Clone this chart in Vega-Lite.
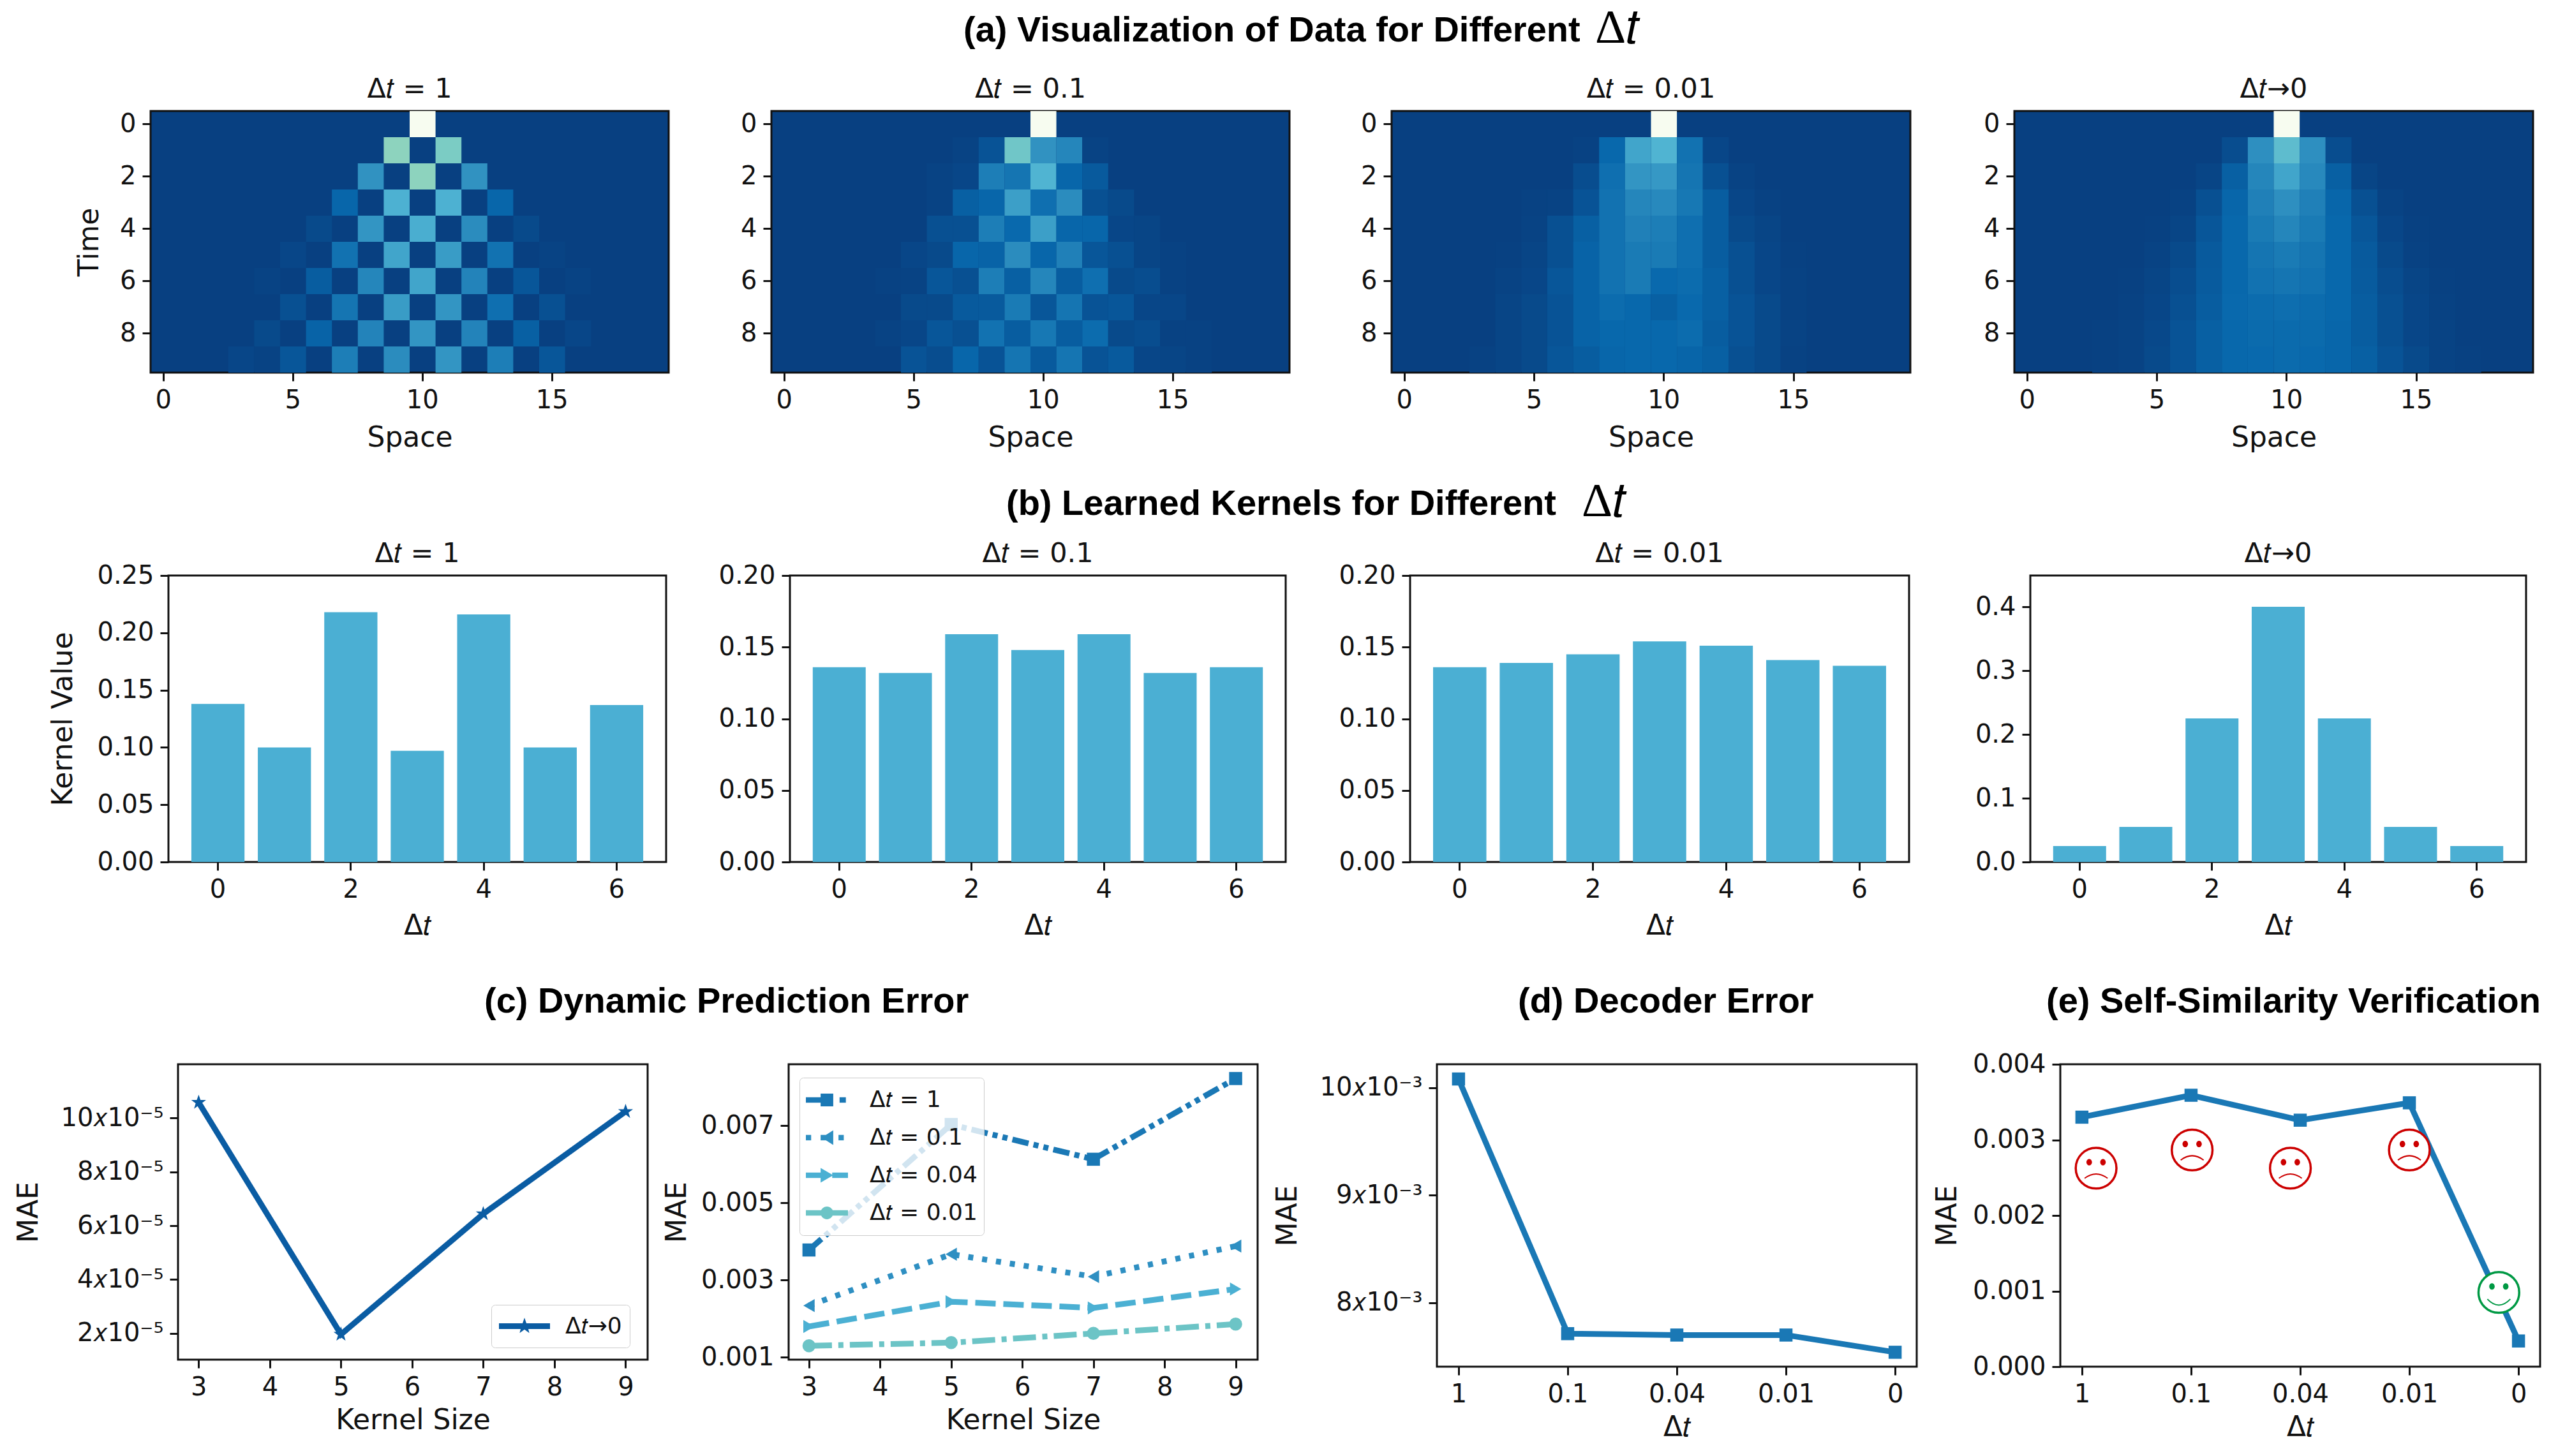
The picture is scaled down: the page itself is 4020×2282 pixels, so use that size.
{"$schema":"https://vega.github.io/schema/vega-lite/v6.json","padding":0,"background":"white","spacing":0,"resolve":{"scale":{"color":"independent","shape":"independent","strokeDash":"independent","fill":"independent","stroke":"independent"}},
"config":{"view":{"stroke":null},"axis":{"domain":false,"grid":false,"labelFont":"DejaVu Sans","titleFont":"DejaVu Sans","labelFontSize":40,"titleFontSize":44,"titleFontWeight":"normal","labelColor":"#111","titleColor":"#111","tickColor":"#111","tickSize":13,"tickWidth":3,"labelPadding":10,"titlePadding":10,"labelAngle":0,"labelOverlap":false,"labelFlush":false,"labelBound":false},"title":{"font":"DejaVu Sans","fontSize":43,"fontWeight":"normal","color":"#111","offset":12}},
"datasets":{"e":[{}],
"h1":[{"x":10,"y":0,"v":1},{"x":9,"y":1,"v":0.55},{"x":11,"y":1,"v":0.5},{"x":8,"y":2,"v":0.27},{"x":10,"y":2,"v":0.55},{"x":12,"y":2,"v":0.27},{"x":7,"y":3,"v":0.12},{"x":9,"y":3,"v":0.37},{"x":11,"y":3,"v":0.37},{"x":13,"y":3,"v":0.12},{"x":6,"y":4,"v":0.03},{"x":8,"y":4,"v":0.28},{"x":10,"y":4,"v":0.36},{"x":12,"y":4,"v":0.25},{"x":14,"y":4,"v":0.03},{"x":5,"y":5,"v":0.02},{"x":7,"y":5,"v":0.16},{"x":9,"y":5,"v":0.33},{"x":11,"y":5,"v":0.3},{"x":13,"y":5,"v":0.16},{"x":15,"y":5,"v":0.01},{"x":4,"y":6,"v":0.01},{"x":6,"y":6,"v":0.09},{"x":8,"y":6,"v":0.23},{"x":10,"y":6,"v":0.33},{"x":12,"y":6,"v":0.22},{"x":14,"y":6,"v":0.07},{"x":16,"y":6,"v":0.01},{"x":5,"y":7,"v":0.05},{"x":7,"y":7,"v":0.17},{"x":9,"y":7,"v":0.3},{"x":11,"y":7,"v":0.28},{"x":13,"y":7,"v":0.15},{"x":15,"y":7,"v":0.05},{"x":4,"y":8,"v":0.03},{"x":6,"y":8,"v":0.11},{"x":8,"y":8,"v":0.22},{"x":10,"y":8,"v":0.28},{"x":12,"y":8,"v":0.22},{"x":14,"y":8,"v":0.1},{"x":16,"y":8,"v":0.02},{"x":3,"y":9,"v":0.02},{"x":4,"y":9,"v":0.01},{"x":5,"y":9,"v":0.07},{"x":7,"y":9,"v":0.2},{"x":9,"y":9,"v":0.25},{"x":11,"y":9,"v":0.28},{"x":13,"y":9,"v":0.2},{"x":15,"y":9,"v":0.07}],
"h2":[{"x":10,"y":0,"v":1},{"x":7,"y":1,"v":0.01},{"x":8,"y":1,"v":0.06},{"x":9,"y":1,"v":0.47},{"x":10,"y":1,"v":0.27},{"x":11,"y":1,"v":0.23},{"x":12,"y":1,"v":0.01},{"x":6,"y":2,"v":0.01},{"x":7,"y":2,"v":0.02},{"x":8,"y":2,"v":0.2},{"x":9,"y":2,"v":0.17},{"x":10,"y":2,"v":0.38},{"x":11,"y":2,"v":0.12},{"x":12,"y":2,"v":0.08},{"x":6,"y":3,"v":0.01},{"x":7,"y":3,"v":0.1},{"x":8,"y":3,"v":0.12},{"x":9,"y":3,"v":0.31},{"x":10,"y":3,"v":0.15},{"x":11,"y":3,"v":0.25},{"x":12,"y":3,"v":0.05},{"x":13,"y":3,"v":0.03},{"x":6,"y":4,"v":0.05},{"x":7,"y":4,"v":0.05},{"x":8,"y":4,"v":0.2},{"x":9,"y":4,"v":0.13},{"x":10,"y":4,"v":0.31},{"x":11,"y":4,"v":0.12},{"x":12,"y":4,"v":0.12},{"x":13,"y":4,"v":0.02},{"x":14,"y":4,"v":0.015},{"x":5,"y":5,"v":0.02},{"x":6,"y":5,"v":0.03},{"x":7,"y":5,"v":0.12},{"x":8,"y":5,"v":0.11},{"x":9,"y":5,"v":0.25},{"x":10,"y":5,"v":0.12},{"x":11,"y":5,"v":0.21},{"x":12,"y":5,"v":0.07},{"x":13,"y":5,"v":0.05},{"x":14,"y":5,"v":0.015},{"x":15,"y":5,"v":0.005},{"x":4,"y":6,"v":0.005},{"x":5,"y":6,"v":0.01},{"x":6,"y":6,"v":0.07},{"x":7,"y":6,"v":0.05},{"x":8,"y":6,"v":0.2},{"x":9,"y":6,"v":0.1},{"x":10,"y":6,"v":0.23},{"x":11,"y":6,"v":0.09},{"x":12,"y":6,"v":0.15},{"x":13,"y":6,"v":0.03},{"x":14,"y":6,"v":0.04},{"x":15,"y":6,"v":0.005},{"x":5,"y":7,"v":0.03},{"x":6,"y":7,"v":0.03},{"x":7,"y":7,"v":0.08},{"x":8,"y":7,"v":0.08},{"x":9,"y":7,"v":0.19},{"x":10,"y":7,"v":0.07},{"x":11,"y":7,"v":0.17},{"x":12,"y":7,"v":0.06},{"x":13,"y":7,"v":0.07},{"x":14,"y":7,"v":0.02},{"x":15,"y":7,"v":0.02},{"x":4,"y":8,"v":0.01},{"x":5,"y":8,"v":0.02},{"x":6,"y":8,"v":0.07},{"x":7,"y":8,"v":0.05},{"x":8,"y":8,"v":0.16},{"x":9,"y":8,"v":0.09},{"x":10,"y":8,"v":0.18},{"x":11,"y":8,"v":0.09},{"x":12,"y":8,"v":0.14},{"x":13,"y":8,"v":0.03},{"x":14,"y":8,"v":0.04},{"x":15,"y":8,"v":0.005},{"x":16,"y":8,"v":0.005},{"x":5,"y":9,"v":0.06},{"x":6,"y":9,"v":0.04},{"x":7,"y":9,"v":0.12},{"x":8,"y":9,"v":0.06},{"x":9,"y":9,"v":0.17},{"x":10,"y":9,"v":0.08},{"x":11,"y":9,"v":0.17},{"x":12,"y":9,"v":0.06},{"x":13,"y":9,"v":0.08},{"x":14,"y":9,"v":0.02},{"x":15,"y":9,"v":0.015},{"x":16,"y":9,"v":0.005}],
"h3":[{"x":10,"y":0,"v":1},{"x":7,"y":1,"v":0.005},{"x":8,"y":1,"v":0.125},{"x":9,"y":1,"v":0.33},{"x":10,"y":1,"v":0.38},{"x":11,"y":1,"v":0.16},{"x":12,"y":1,"v":0.02},{"x":7,"y":2,"v":0.04},{"x":8,"y":2,"v":0.15},{"x":9,"y":2,"v":0.28},{"x":10,"y":2,"v":0.29},{"x":11,"y":2,"v":0.17},{"x":12,"y":2,"v":0.05},{"x":13,"y":2,"v":0.01},{"x":5,"y":3,"v":0.005},{"x":6,"y":3,"v":0.01},{"x":7,"y":3,"v":0.06},{"x":8,"y":3,"v":0.16},{"x":9,"y":3,"v":0.23},{"x":10,"y":3,"v":0.24},{"x":11,"y":3,"v":0.18},{"x":12,"y":3,"v":0.09},{"x":13,"y":3,"v":0.02},{"x":14,"y":3,"v":0.005},{"x":5,"y":4,"v":0.01},{"x":6,"y":4,"v":0.05},{"x":7,"y":4,"v":0.1},{"x":8,"y":4,"v":0.16},{"x":9,"y":4,"v":0.21},{"x":10,"y":4,"v":0.2},{"x":11,"y":4,"v":0.15},{"x":12,"y":4,"v":0.09},{"x":13,"y":4,"v":0.03},{"x":14,"y":4,"v":0.015},{"x":4,"y":5,"v":0.003},{"x":5,"y":5,"v":0.015},{"x":6,"y":5,"v":0.05},{"x":7,"y":5,"v":0.11},{"x":8,"y":5,"v":0.16},{"x":9,"y":5,"v":0.19},{"x":10,"y":5,"v":0.19},{"x":11,"y":5,"v":0.15},{"x":12,"y":5,"v":0.09},{"x":13,"y":5,"v":0.05},{"x":14,"y":5,"v":0.02},{"x":15,"y":5,"v":0.003},{"x":4,"y":6,"v":0.01},{"x":5,"y":6,"v":0.02},{"x":6,"y":6,"v":0.07},{"x":7,"y":6,"v":0.11},{"x":8,"y":6,"v":0.16},{"x":9,"y":6,"v":0.19},{"x":10,"y":6,"v":0.13},{"x":11,"y":6,"v":0.14},{"x":12,"y":6,"v":0.1},{"x":13,"y":6,"v":0.05},{"x":14,"y":6,"v":0.02},{"x":15,"y":6,"v":0.005},{"x":4,"y":7,"v":0.015},{"x":5,"y":7,"v":0.03},{"x":6,"y":7,"v":0.06},{"x":7,"y":7,"v":0.11},{"x":8,"y":7,"v":0.14},{"x":9,"y":7,"v":0.125},{"x":10,"y":7,"v":0.1},{"x":11,"y":7,"v":0.13},{"x":12,"y":7,"v":0.1},{"x":13,"y":7,"v":0.06},{"x":14,"y":7,"v":0.03},{"x":15,"y":7,"v":0.005},{"x":4,"y":8,"v":0.015},{"x":5,"y":8,"v":0.03},{"x":6,"y":8,"v":0.06},{"x":7,"y":8,"v":0.11},{"x":8,"y":8,"v":0.125},{"x":9,"y":8,"v":0.125},{"x":10,"y":8,"v":0.125},{"x":11,"y":8,"v":0.14},{"x":12,"y":8,"v":0.09},{"x":13,"y":8,"v":0.06},{"x":14,"y":8,"v":0.03},{"x":15,"y":8,"v":0.01},{"x":3,"y":9,"v":0.005},{"x":4,"y":9,"v":0.015},{"x":5,"y":9,"v":0.03},{"x":6,"y":9,"v":0.07},{"x":7,"y":9,"v":0.09},{"x":8,"y":9,"v":0.12},{"x":9,"y":9,"v":0.125},{"x":10,"y":9,"v":0.125},{"x":11,"y":9,"v":0.115},{"x":12,"y":9,"v":0.1},{"x":13,"y":9,"v":0.05},{"x":14,"y":9,"v":0.03},{"x":15,"y":9,"v":0.005}],
"h4":[{"x":10,"y":0,"v":1},{"x":8,"y":1,"v":0.04},{"x":9,"y":1,"v":0.26},{"x":10,"y":1,"v":0.42},{"x":11,"y":1,"v":0.26},{"x":12,"y":1,"v":0.04},{"x":7,"y":2,"v":0.015},{"x":8,"y":2,"v":0.1},{"x":9,"y":2,"v":0.23},{"x":10,"y":2,"v":0.33},{"x":11,"y":2,"v":0.24},{"x":12,"y":2,"v":0.1},{"x":13,"y":2,"v":0.015},{"x":6,"y":3,"v":0.005},{"x":7,"y":3,"v":0.05},{"x":8,"y":3,"v":0.12},{"x":9,"y":3,"v":0.21},{"x":10,"y":3,"v":0.26},{"x":11,"y":3,"v":0.21},{"x":12,"y":3,"v":0.12},{"x":13,"y":3,"v":0.05},{"x":14,"y":3,"v":0.01},{"x":5,"y":4,"v":0.003},{"x":6,"y":4,"v":0.015},{"x":7,"y":4,"v":0.07},{"x":8,"y":4,"v":0.125},{"x":9,"y":4,"v":0.19},{"x":10,"y":4,"v":0.23},{"x":11,"y":4,"v":0.19},{"x":12,"y":4,"v":0.125},{"x":13,"y":4,"v":0.07},{"x":14,"y":4,"v":0.02},{"x":15,"y":4,"v":0.003},{"x":5,"y":5,"v":0.01},{"x":6,"y":5,"v":0.03},{"x":7,"y":5,"v":0.08},{"x":8,"y":5,"v":0.125},{"x":9,"y":5,"v":0.17},{"x":10,"y":5,"v":0.19},{"x":11,"y":5,"v":0.17},{"x":12,"y":5,"v":0.125},{"x":13,"y":5,"v":0.08},{"x":14,"y":5,"v":0.03},{"x":15,"y":5,"v":0.005},{"x":4,"y":6,"v":0.003},{"x":5,"y":6,"v":0.015},{"x":6,"y":6,"v":0.04},{"x":7,"y":6,"v":0.085},{"x":8,"y":6,"v":0.125},{"x":9,"y":6,"v":0.16},{"x":10,"y":6,"v":0.17},{"x":11,"y":6,"v":0.16},{"x":12,"y":6,"v":0.125},{"x":13,"y":6,"v":0.085},{"x":14,"y":6,"v":0.04},{"x":15,"y":6,"v":0.015},{"x":16,"y":6,"v":0.002},{"x":4,"y":7,"v":0.005},{"x":5,"y":7,"v":0.02},{"x":6,"y":7,"v":0.05},{"x":7,"y":7,"v":0.09},{"x":8,"y":7,"v":0.13},{"x":9,"y":7,"v":0.14},{"x":10,"y":7,"v":0.145},{"x":11,"y":7,"v":0.14},{"x":12,"y":7,"v":0.125},{"x":13,"y":7,"v":0.09},{"x":14,"y":7,"v":0.05},{"x":15,"y":7,"v":0.02},{"x":16,"y":7,"v":0.005},{"x":3,"y":8,"v":0.002},{"x":4,"y":8,"v":0.008},{"x":5,"y":8,"v":0.025},{"x":6,"y":8,"v":0.06},{"x":7,"y":8,"v":0.1},{"x":8,"y":8,"v":0.125},{"x":9,"y":8,"v":0.135},{"x":10,"y":8,"v":0.135},{"x":11,"y":8,"v":0.135},{"x":12,"y":8,"v":0.12},{"x":13,"y":8,"v":0.09},{"x":14,"y":8,"v":0.05},{"x":15,"y":8,"v":0.02},{"x":16,"y":8,"v":0.008},{"x":3,"y":9,"v":0.004},{"x":4,"y":9,"v":0.01},{"x":5,"y":9,"v":0.03},{"x":6,"y":9,"v":0.06},{"x":7,"y":9,"v":0.1},{"x":8,"y":9,"v":0.125},{"x":9,"y":9,"v":0.13},{"x":10,"y":9,"v":0.135},{"x":11,"y":9,"v":0.13},{"x":12,"y":9,"v":0.12},{"x":13,"y":9,"v":0.1},{"x":14,"y":9,"v":0.06},{"x":15,"y":9,"v":0.03},{"x":16,"y":9,"v":0.01},{"x":17,"y":9,"v":0.004}],
"b1":[{"i":0,"v":0.138},{"i":1,"v":0.1},{"i":2,"v":0.218},{"i":3,"v":0.097},{"i":4,"v":0.216},{"i":5,"v":0.1},{"i":6,"v":0.137}],
"b2":[{"i":0,"v":0.136},{"i":1,"v":0.132},{"i":2,"v":0.159},{"i":3,"v":0.148},{"i":4,"v":0.159},{"i":5,"v":0.132},{"i":6,"v":0.136}],
"b3":[{"i":0,"v":0.136},{"i":1,"v":0.139},{"i":2,"v":0.145},{"i":3,"v":0.154},{"i":4,"v":0.151},{"i":5,"v":0.141},{"i":6,"v":0.137}],
"b4":[{"i":0,"v":0.025},{"i":1,"v":0.055},{"i":2,"v":0.225},{"i":3,"v":0.4},{"i":4,"v":0.225},{"i":5,"v":0.055},{"i":6,"v":0.025}],
"l1":[{"k":3,"mae":0.0001058,"s":"Δ𝑡→0"},{"k":5,"mae":0.0000196,"s":"Δ𝑡→0"},{"k":7,"mae":0.0000644,"s":"Δ𝑡→0"},{"k":9,"mae":0.0001024,"s":"Δ𝑡→0"}],
"l2":[{"k":3,"mae":0.00378,"s":"Δ𝑡 = 1"},{"k":5,"mae":0.00703,"s":"Δ𝑡 = 1"},{"k":7,"mae":0.00613,"s":"Δ𝑡 = 1"},{"k":9,"mae":0.00822,"s":"Δ𝑡 = 1"},{"k":3,"mae":0.00234,"s":"Δ𝑡 = 0.1"},{"k":5,"mae":0.00367,"s":"Δ𝑡 = 0.1"},{"k":7,"mae":0.00309,"s":"Δ𝑡 = 0.1"},{"k":9,"mae":0.00388,"s":"Δ𝑡 = 0.1"},{"k":3,"mae":0.0018,"s":"Δ𝑡 = 0.04"},{"k":5,"mae":0.00244,"s":"Δ𝑡 = 0.04"},{"k":7,"mae":0.00228,"s":"Δ𝑡 = 0.04"},{"k":9,"mae":0.00277,"s":"Δ𝑡 = 0.04"},{"k":3,"mae":0.0013,"s":"Δ𝑡 = 0.01"},{"k":5,"mae":0.00138,"s":"Δ𝑡 = 0.01"},{"k":7,"mae":0.00162,"s":"Δ𝑡 = 0.01"},{"k":9,"mae":0.00186,"s":"Δ𝑡 = 0.01"}],
"d":[{"i":0,"mae":0.01008},{"i":1,"mae":0.007713},{"i":2,"mae":0.0077},{"i":3,"mae":0.0077},{"i":4,"mae":0.00754}],
"f":[{"i":0,"mae":0.0033},{"i":1,"mae":0.00359},{"i":2,"mae":0.00326},{"i":3,"mae":0.00349},{"i":4,"mae":0.00034}],
"faces":[{"i":0.13,"mae":0.002625,"mood":"sad"},{"i":1.01,"mae":0.002866,"mood":"sad"},{"i":1.91,"mae":0.002625,"mood":"sad"},{"i":3.0,"mae":0.002866,"mood":"sad"},{"i":3.82,"mae":0.000982,"mood":"happy"}]},
"vconcat":[
{"columns":8,"spacing":0,"bounds":"flush","resolve":{"scale":{"color":"independent","shape":"independent","strokeDash":"independent","fill":"independent","stroke":"independent"}},"concat":[
{"data":{"name":"e"},"mark":{"type":"rect","opacity":0},"encoding":{},"width":1,"height":174},
{"data":{"name":"e"},"mark":{"type":"rect","opacity":0},"encoding":{},"width":1,"height":1},
{"data":{"name":"e"},"mark":{"type":"rect","opacity":0},"encoding":{},"width":1,"height":1},
{"data":{"name":"e"},"mark":{"type":"rect","opacity":0},"encoding":{},"width":1,"height":1,"title":{"text":"(a) Visualization of Data for Different","orient":"bottom","font":"Liberation Sans","fontWeight":"bold","fontSize":56,"anchor":"start","offset":0,"baseline":"alphabetic","dx":301,"dy":64,"color":"#000"}},
{"data":{"name":"e"},"mark":{"type":"rect","opacity":0},"encoding":{},"width":1,"height":1},
{"data":{"name":"e"},"mark":{"type":"rect","opacity":0},"encoding":{},"width":1,"height":1,"title":{"text":"Δ𝑡","orient":"bottom","font":"Liberation Serif","fontSize":75,"anchor":"start","offset":0,"baseline":"alphabetic","dx":319,"dy":66,"color":"#000"}},
{"data":{"name":"e"},"mark":{"type":"rect","opacity":0},"encoding":{},"width":1,"height":1},
{"data":{"name":"e"},"mark":{"type":"rect","opacity":0},"encoding":{},"width":1,"height":1},

{"data":{"name":"e"},"mark":{"type":"rect","opacity":0},"encoding":{},"width":236,"height":1},
{"data":{"name":"h1"},"title":"Δ𝑡 = 1","width":812,"height":410,"view":{"fill":"#084081","stroke":"#111","strokeWidth":3},"mark":"rect","encoding":{"x":{"field":"x","type":"ordinal","title":"Space","scale":{"domain":[0,1,2,3,4,5,6,7,8,9,10,11,12,13,14,15,16,17,18,19],"padding":0},"axis":{"values":[0,5,10,15],"titlePadding":17}},"y":{"field":"y","type":"ordinal","title":"Time","scale":{"domain":[0,1,2,3,4,5,6,7,8,9],"padding":0},"axis":{"values":[0,2,4,6,8],"titlePadding":25}},"color":{"field":"v","type":"quantitative","legend":null,"scale":{"domain":[0,0.125,0.25,0.375,0.5,0.625,0.75,0.875,1],"range":["#084081","#0868ac","#2b8cbe","#4eb3d3","#7bccc4","#a8ddb5","#ccebc5","#e0f3db","#f7fcf0"],"interpolate":"rgb"}}}},
{"data":{"name":"e"},"mark":{"type":"rect","opacity":0},"encoding":{},"width":161,"height":1},
{"data":{"name":"h2"},"title":"Δ𝑡 = 0.1","width":812,"height":410,"view":{"fill":"#084081","stroke":"#111","strokeWidth":3},"mark":"rect","encoding":{"x":{"field":"x","type":"ordinal","title":"Space","scale":{"domain":[0,1,2,3,4,5,6,7,8,9,10,11,12,13,14,15,16,17,18,19],"padding":0},"axis":{"values":[0,5,10,15],"titlePadding":17}},"y":{"field":"y","type":"ordinal","title":null,"scale":{"domain":[0,1,2,3,4,5,6,7,8,9],"padding":0},"axis":{"values":[0,2,4,6,8]}},"color":{"field":"v","type":"quantitative","legend":null,"scale":{"domain":[0,0.125,0.25,0.375,0.5,0.625,0.75,0.875,1],"range":["#084081","#0868ac","#2b8cbe","#4eb3d3","#7bccc4","#a8ddb5","#ccebc5","#e0f3db","#f7fcf0"],"interpolate":"rgb"}}}},
{"data":{"name":"e"},"mark":{"type":"rect","opacity":0},"encoding":{},"width":160,"height":1},
{"data":{"name":"h3"},"title":"Δ𝑡 = 0.01","width":813,"height":410,"view":{"fill":"#084081","stroke":"#111","strokeWidth":3},"mark":"rect","encoding":{"x":{"field":"x","type":"ordinal","title":"Space","scale":{"domain":[0,1,2,3,4,5,6,7,8,9,10,11,12,13,14,15,16,17,18,19],"padding":0},"axis":{"values":[0,5,10,15],"titlePadding":17}},"y":{"field":"y","type":"ordinal","title":null,"scale":{"domain":[0,1,2,3,4,5,6,7,8,9],"padding":0},"axis":{"values":[0,2,4,6,8]}},"color":{"field":"v","type":"quantitative","legend":null,"scale":{"domain":[0,0.125,0.25,0.375,0.5,0.625,0.75,0.875,1],"range":["#084081","#0868ac","#2b8cbe","#4eb3d3","#7bccc4","#a8ddb5","#ccebc5","#e0f3db","#f7fcf0"],"interpolate":"rgb"}}}},
{"data":{"name":"e"},"mark":{"type":"rect","opacity":0},"encoding":{},"width":163,"height":1},
{"data":{"name":"h4"},"title":"Δ𝑡→0","width":813,"height":410,"view":{"fill":"#084081","stroke":"#111","strokeWidth":3},"mark":"rect","encoding":{"x":{"field":"x","type":"ordinal","title":"Space","scale":{"domain":[0,1,2,3,4,5,6,7,8,9,10,11,12,13,14,15,16,17,18,19],"padding":0},"axis":{"values":[0,5,10,15],"titlePadding":17}},"y":{"field":"y","type":"ordinal","title":null,"scale":{"domain":[0,1,2,3,4,5,6,7,8,9],"padding":0},"axis":{"values":[0,2,4,6,8]}},"color":{"field":"v","type":"quantitative","legend":null,"scale":{"domain":[0,0.125,0.25,0.375,0.5,0.625,0.75,0.875,1],"range":["#084081","#0868ac","#2b8cbe","#4eb3d3","#7bccc4","#a8ddb5","#ccebc5","#e0f3db","#f7fcf0"],"interpolate":"rgb"}}}},
{"data":{"name":"e"},"mark":{"type":"rect","opacity":0},"encoding":{},"width":1,"height":130}
]},
{"columns":8,"spacing":0,"bounds":"flush","concat":[
{"data":{"name":"e"},"mark":{"type":"rect","opacity":0},"encoding":{},"width":1,"height":188},
{"data":{"name":"e"},"mark":{"type":"rect","opacity":0},"encoding":{},"width":1,"height":1},
{"data":{"name":"e"},"mark":{"type":"rect","opacity":0},"encoding":{},"width":1,"height":1},
{"data":{"name":"e"},"mark":{"type":"rect","opacity":0},"encoding":{},"width":1,"height":1,"title":{"text":"(b) Learned Kernels for Different","orient":"bottom","font":"Liberation Sans","fontWeight":"bold","fontSize":56,"anchor":"start","offset":0,"baseline":"alphabetic","dx":339,"dy":92,"color":"#000"}},
{"data":{"name":"e"},"mark":{"type":"rect","opacity":0},"encoding":{},"width":1,"height":1},
{"data":{"name":"e"},"mark":{"type":"rect","opacity":0},"encoding":{},"width":1,"height":1,"title":{"text":"Δ𝑡","orient":"bottom","font":"Liberation Serif","fontSize":75,"anchor":"start","offset":0,"baseline":"alphabetic","dx":269,"dy":94,"color":"#000"}},
{"data":{"name":"e"},"mark":{"type":"rect","opacity":0},"encoding":{},"width":1,"height":1},
{"data":{"name":"e"},"mark":{"type":"rect","opacity":0},"encoding":{},"width":1,"height":1},

{"data":{"name":"e"},"mark":{"type":"rect","opacity":0},"encoding":{},"width":264,"height":1},
{"data":{"name":"b1"},"title":{"text":"Δ𝑡 = 1","offset":-8},"width":780,"height":449,"view":{"stroke":"#111","strokeWidth":3},"mark":{"type":"bar","color":"#4bafd3"},"encoding":{"x":{"field":"i","type":"ordinal","title":"Δ𝑡","scale":{"paddingInner":0.2,"paddingOuter":0.345},"axis":{"values":[0,2,4,6],"titlePadding":15}},"y":{"field":"v","type":"quantitative","title":"Kernel Value","scale":{"domain":[0,0.25],"nice":false},"axis":{"values":[0,0.05,0.1,0.15,0.2,0.25],"format":".2f","titlePadding":30}}}},
{"data":{"name":"e"},"mark":{"type":"rect","opacity":0},"encoding":{},"width":194,"height":1},
{"data":{"name":"b2"},"title":{"text":"Δ𝑡 = 0.1","offset":-8},"width":777,"height":449,"view":{"stroke":"#111","strokeWidth":3},"mark":{"type":"bar","color":"#4bafd3"},"encoding":{"x":{"field":"i","type":"ordinal","title":"Δ𝑡","scale":{"paddingInner":0.2,"paddingOuter":0.345},"axis":{"values":[0,2,4,6],"titlePadding":15}},"y":{"field":"v","type":"quantitative","title":null,"scale":{"domain":[0,0.2],"nice":false},"axis":{"values":[0,0.05,0.1,0.15,0.2],"format":".2f"}}}},
{"data":{"name":"e"},"mark":{"type":"rect","opacity":0},"encoding":{},"width":195,"height":1},
{"data":{"name":"b3"},"title":{"text":"Δ𝑡 = 0.01","offset":-8},"width":782,"height":449,"view":{"stroke":"#111","strokeWidth":3},"mark":{"type":"bar","color":"#4bafd3"},"encoding":{"x":{"field":"i","type":"ordinal","title":"Δ𝑡","scale":{"paddingInner":0.2,"paddingOuter":0.345},"axis":{"values":[0,2,4,6],"titlePadding":15}},"y":{"field":"v","type":"quantitative","title":null,"scale":{"domain":[0,0.2],"nice":false},"axis":{"values":[0,0.05,0.1,0.15,0.2],"format":".2f"}}}},
{"data":{"name":"e"},"mark":{"type":"rect","opacity":0},"encoding":{},"width":190,"height":1},
{"data":{"name":"b4"},"title":"Δ𝑡→0","width":777,"height":449,"view":{"stroke":"#111","strokeWidth":3},"mark":{"type":"bar","color":"#4bafd3"},"encoding":{"x":{"field":"i","type":"ordinal","title":"Δ𝑡","scale":{"paddingInner":0.2,"paddingOuter":0.345},"axis":{"values":[0,2,4,6],"titlePadding":15}},"y":{"field":"v","type":"quantitative","title":null,"scale":{"domain":[0,0.449],"nice":false},"axis":{"values":[0,0.1,0.2,0.3,0.4],"format":".1f"}}}},
{"data":{"name":"e"},"mark":{"type":"rect","opacity":0},"encoding":{},"width":1,"height":130}
]},
{"columns":8,"spacing":0,"bounds":"flush","resolve":{"scale":{"color":"independent","shape":"independent","strokeDash":"independent","fill":"independent","stroke":"independent"}},"concat":[
{"data":{"name":"e"},"mark":{"type":"rect","opacity":0},"encoding":{},"width":1,"height":187},
{"data":{"name":"e"},"mark":{"type":"rect","opacity":0},"encoding":{},"width":1,"height":1,"title":{"text":"(c) Dynamic Prediction Error","orient":"bottom","font":"Liberation Sans","fontWeight":"bold","fontSize":56,"anchor":"start","offset":0,"baseline":"alphabetic","dx":480,"dy":105,"color":"#000"}},
{"data":{"name":"e"},"mark":{"type":"rect","opacity":0},"encoding":{},"width":1,"height":1},
{"data":{"name":"e"},"mark":{"type":"rect","opacity":0},"encoding":{},"width":1,"height":1},
{"data":{"name":"e"},"mark":{"type":"rect","opacity":0},"encoding":{},"width":1,"height":1},
{"data":{"name":"e"},"mark":{"type":"rect","opacity":0},"encoding":{},"width":1,"height":1,"title":{"text":"(d) Decoder Error","orient":"bottom","font":"Liberation Sans","fontWeight":"bold","fontSize":56,"anchor":"start","offset":0,"baseline":"alphabetic","dx":127,"dy":105,"color":"#000"}},
{"data":{"name":"e"},"mark":{"type":"rect","opacity":0},"encoding":{},"width":1,"height":1},
{"data":{"name":"e"},"mark":{"type":"rect","opacity":0},"encoding":{},"width":1,"height":1,"title":{"text":"(e) Self-Similarity Verification","orient":"bottom","font":"Liberation Sans","fontWeight":"bold","fontSize":56,"anchor":"start","offset":0,"baseline":"alphabetic","dx":-22,"dy":105,"color":"#000"}},

{"data":{"name":"e"},"mark":{"type":"rect","opacity":0},"encoding":{},"width":279,"height":1},
{"data":{"name":"l1"},"width":736,"height":463,"view":{"stroke":"#111","strokeWidth":3},"encoding":{"x":{"field":"k","type":"quantitative","title":"Kernel Size","scale":{"domain":[2.71,9.31],"nice":false},"axis":{"values":[3,4,5,6,7,8,9]}},"y":{"field":"mae","type":"quantitative","title":"MAE","scale":{"domain":[0.0000102,0.00012],"nice":false},"axis":{"values":[0.00002,0.00004,0.00006,0.00008,0.0001],"labelExpr":"round(datum.value*100000)+'𝑥10⁻⁵'","titlePadding":28}}},
"layer":[{"mark":{"type":"line","color":"#0a5ca3","strokeWidth":9}},{"mark":{"type":"point","filled":true,"opacity":1,"color":"#0a5ca3","size":600,"shape":"M0,-1L.24,-.31L.95,-.31L.38,.12L.59,.81L0,.38L-.59,.81L-.38,.12L-.95,-.31L-.24,-.31Z"}},
{"mark":{"type":"point","filled":true,"opacity":0,"color":"#0a5ca3"},"encoding":{"shape":{"field":"s","type":"nominal","scale":{"range":["M-1,-.11H1V.11H-1Z M0,-.33L.08,-.1L.31,-.1L.13,.04L.19,.27L0,.13L-.19,.27L-.13,.04L-.31,-.1L-.08,-.1Z"]},"legend":{"title":null,"orient":"none","legendX":491,"legendY":377,"fillColor":"rgba(255,255,255,0.8)","strokeColor":"#ccc","cornerRadius":6,"padding":12,"symbolOpacity":1,"symbolStrokeWidth":0,"symbolSize":6400,"labelFont":"DejaVu Sans","labelFontSize":36,"labelColor":"#111","labelOffset":24,"labelLimit":400,"clipHeight":43,"zindex":1,"encode":{"symbols":{"update":{"fill":{"value":"#0a5ca3"},"opacity":{"value":1}}}}}}}}]},
{"data":{"name":"e"},"mark":{"type":"rect","opacity":0},"encoding":{},"width":221,"height":1},
{"data":{"name":"l2"},"width":735,"height":463,"view":{"stroke":"#111","strokeWidth":3},"encoding":{"x":{"field":"k","type":"quantitative","title":"Kernel Size","scale":{"domain":[2.714,9.309],"nice":false},"axis":{"values":[3,4,5,6,7,8,9]}},"y":{"field":"mae","type":"quantitative","title":"MAE","scale":{"domain":[0.00094,0.00859],"nice":false},"axis":{"values":[0.001,0.003,0.005,0.007],"format":".3f","titlePadding":15}}},
"layer":[
{"mark":{"type":"point","filled":true,"opacity":0},"encoding":{"color":{"field":"s","type":"nominal","scale":{"domain":["Δ𝑡 = 1","Δ𝑡 = 0.1","Δ𝑡 = 0.04","Δ𝑡 = 0.01"],"range":["#1a78b5","#2e8fc2","#4bb0d3","#6cc4c6"]},"legend":{"title":null,"orient":"none","legendX":17,"legendY":21,"fillColor":"rgba(255,255,255,0.8)","strokeColor":"#ccc","cornerRadius":6,"padding":10,"symbolOpacity":1,"symbolStrokeWidth":0,"symbolSize":4356,"symbolFillColor":"#1a78b5","labelFont":"DejaVu Sans","labelFontSize":36,"labelColor":"#111","labelOffset":34,"labelLimit":400,"clipHeight":50,"rowPadding":9,"zindex":1}},"shape":{"field":"s","type":"nominal","scale":{"domain":["Δ𝑡 = 1","Δ𝑡 = 0.1","Δ𝑡 = 0.04","Δ𝑡 = 0.01"],"range":["M-1,-.13H.1V.13H-1Z M-.3,-.3H.3V.3H-.3Z M.6,-.13H.9V.13H.6Z","M-1,-.13H-.75V.13H-1Z M-.3,-.13H0V.13H-.3Z M-.25,0L.3,-.35V.35Z M.55,-.13H.8V.13H.55Z","M-1,-.13H-.1V.13H-1Z M-.3,-.35L.3,0L-.3,.35Z M.25,-.13H1V.13H.25Z","M-1,-.13H1V.13H-1Z M-.3,0a.3,.3 0 1,1 .6,0a.3,.3 0 1,1 -.6,0Z"]},"legend":{"title":null,"orient":"none","legendX":17,"legendY":21,"fillColor":"rgba(255,255,255,0.8)","strokeColor":"#ccc","cornerRadius":6,"padding":10,"symbolOpacity":1,"symbolStrokeWidth":0,"symbolSize":4356,"symbolFillColor":"#1a78b5","labelFont":"DejaVu Sans","labelFontSize":36,"labelColor":"#111","labelOffset":34,"labelLimit":400,"clipHeight":50,"rowPadding":9,"zindex":1}}}},
{"transform":[{"filter":"datum.s==='Δ𝑡 = 1'"}],"mark":{"type":"line","color":"#1a78b5","strokeWidth":9,"strokeDash":[26,8,8,8,8,8]}},
{"transform":[{"filter":"datum.s==='Δ𝑡 = 0.1'"}],"mark":{"type":"line","color":"#2e8fc2","strokeWidth":9,"strokeDash":[8,14]}},
{"transform":[{"filter":"datum.s==='Δ𝑡 = 0.04'"}],"mark":{"type":"line","color":"#4bb0d3","strokeWidth":9,"strokeDash":[32,12]}},
{"transform":[{"filter":"datum.s==='Δ𝑡 = 0.01'"}],"mark":{"type":"line","color":"#6cc4c6","strokeWidth":9,"strokeDash":[36,10,8,10]}},
{"transform":[{"filter":"datum.s==='Δ𝑡 = 1'"}],"mark":{"type":"point","filled":true,"opacity":1,"shape":"square","size":420,"color":"#1a78b5"}},
{"transform":[{"filter":"datum.s==='Δ𝑡 = 0.1'"}],"mark":{"type":"point","filled":true,"opacity":1,"shape":"triangle-left","size":420,"color":"#2e8fc2"}},
{"transform":[{"filter":"datum.s==='Δ𝑡 = 0.04'"}],"mark":{"type":"point","filled":true,"opacity":1,"shape":"triangle-right","size":420,"color":"#4bb0d3"}},
{"transform":[{"filter":"datum.s==='Δ𝑡 = 0.01'"}],"mark":{"type":"point","filled":true,"opacity":1,"shape":"circle","size":420,"color":"#6cc4c6"}}]},
{"data":{"name":"e"},"mark":{"type":"rect","opacity":0},"encoding":{},"width":281,"height":1},
{"data":{"name":"d"},"width":752,"height":474,"view":{"stroke":"#111","strokeWidth":3},"encoding":{"x":{"field":"i","type":"quantitative","title":"Δ𝑡","scale":{"domain":[-0.198,4.198],"nice":false},"axis":{"values":[0,1,2,3,4],"labelExpr":"['1','0.1','0.04','0.01','0'][datum.value]"}},"y":{"field":"mae","type":"quantitative","title":"MAE","scale":{"domain":[0.007406,0.010217],"nice":false},"axis":{"values":[0.008,0.009,0.01],"labelExpr":"round(datum.value*1000)+'𝑥10⁻³'","titlePadding":28}}},
"layer":[{"mark":{"type":"line","color":"#1a78b5","strokeWidth":9}},{"mark":{"type":"point","filled":true,"opacity":1,"shape":"square","size":420,"color":"#1a78b5"}}]},
{"data":{"name":"e"},"mark":{"type":"rect","opacity":0},"encoding":{},"width":225,"height":1},
{"width":752,"height":474,"view":{"stroke":"#111","strokeWidth":3},"encoding":{"x":{"field":"i","type":"quantitative","title":"Δ𝑡","scale":{"domain":[-0.198,4.198],"nice":false},"axis":{"values":[0,1,2,3,4],"labelExpr":"['1','0.1','0.04','0.01','0'][datum.value]"}},"y":{"field":"mae","type":"quantitative","title":"MAE","scale":{"domain":[0,0.004],"nice":false},"axis":{"values":[0,0.001,0.002,0.003,0.004],"format":".3f","titlePadding":17}}},
"layer":[{"data":{"name":"f"},"mark":{"type":"line","color":"#1a78b5","strokeWidth":9}},{"data":{"name":"f"},"mark":{"type":"point","filled":true,"opacity":1,"shape":"square","size":420,"color":"#1a78b5"}},
{"data":{"name":"faces"},"mark":{"type":"point","filled":false,"fill":"white","fillOpacity":1,"opacity":1,"shape":"circle","size":4072,"strokeWidth":3.5},"encoding":{"stroke":{"field":"mood","type":"nominal","legend":null,"scale":{"domain":["sad","happy"],"range":["#cc0000","#009944"]}}}},
{"data":{"name":"faces"},"mark":{"type":"point","filled":true,"opacity":1,"size":5184,"strokeWidth":0,"shape":"M-.42,-.26a.12,.14 0 1,0 .24,0a.12,.14 0 1,0 -.24,0Z M.18,-.26a.12,.14 0 1,0 .24,0a.12,.14 0 1,0 -.24,0Z"},"encoding":{"fill":{"field":"mood","type":"nominal","legend":null,"scale":{"domain":["sad","happy"],"range":["#cc0000","#009944"]}}}},
{"data":{"name":"faces"},"transform":[{"filter":"datum.mood==='sad'"}],"mark":{"type":"point","filled":false,"fill":null,"opacity":1,"size":5184,"strokeWidth":2,"color":"#cc0000","shape":"M-.5,.44Q0,.06 .5,.44"}},
{"data":{"name":"faces"},"transform":[{"filter":"datum.mood==='happy'"}],"mark":{"type":"point","filled":false,"fill":null,"opacity":1,"size":5184,"strokeWidth":2,"color":"#009944","shape":"M-.5,.29Q0,.81 .5,.29"}}]},
{"data":{"name":"e"},"mark":{"type":"rect","opacity":0},"encoding":{},"width":1,"height":130}
]}
]}
